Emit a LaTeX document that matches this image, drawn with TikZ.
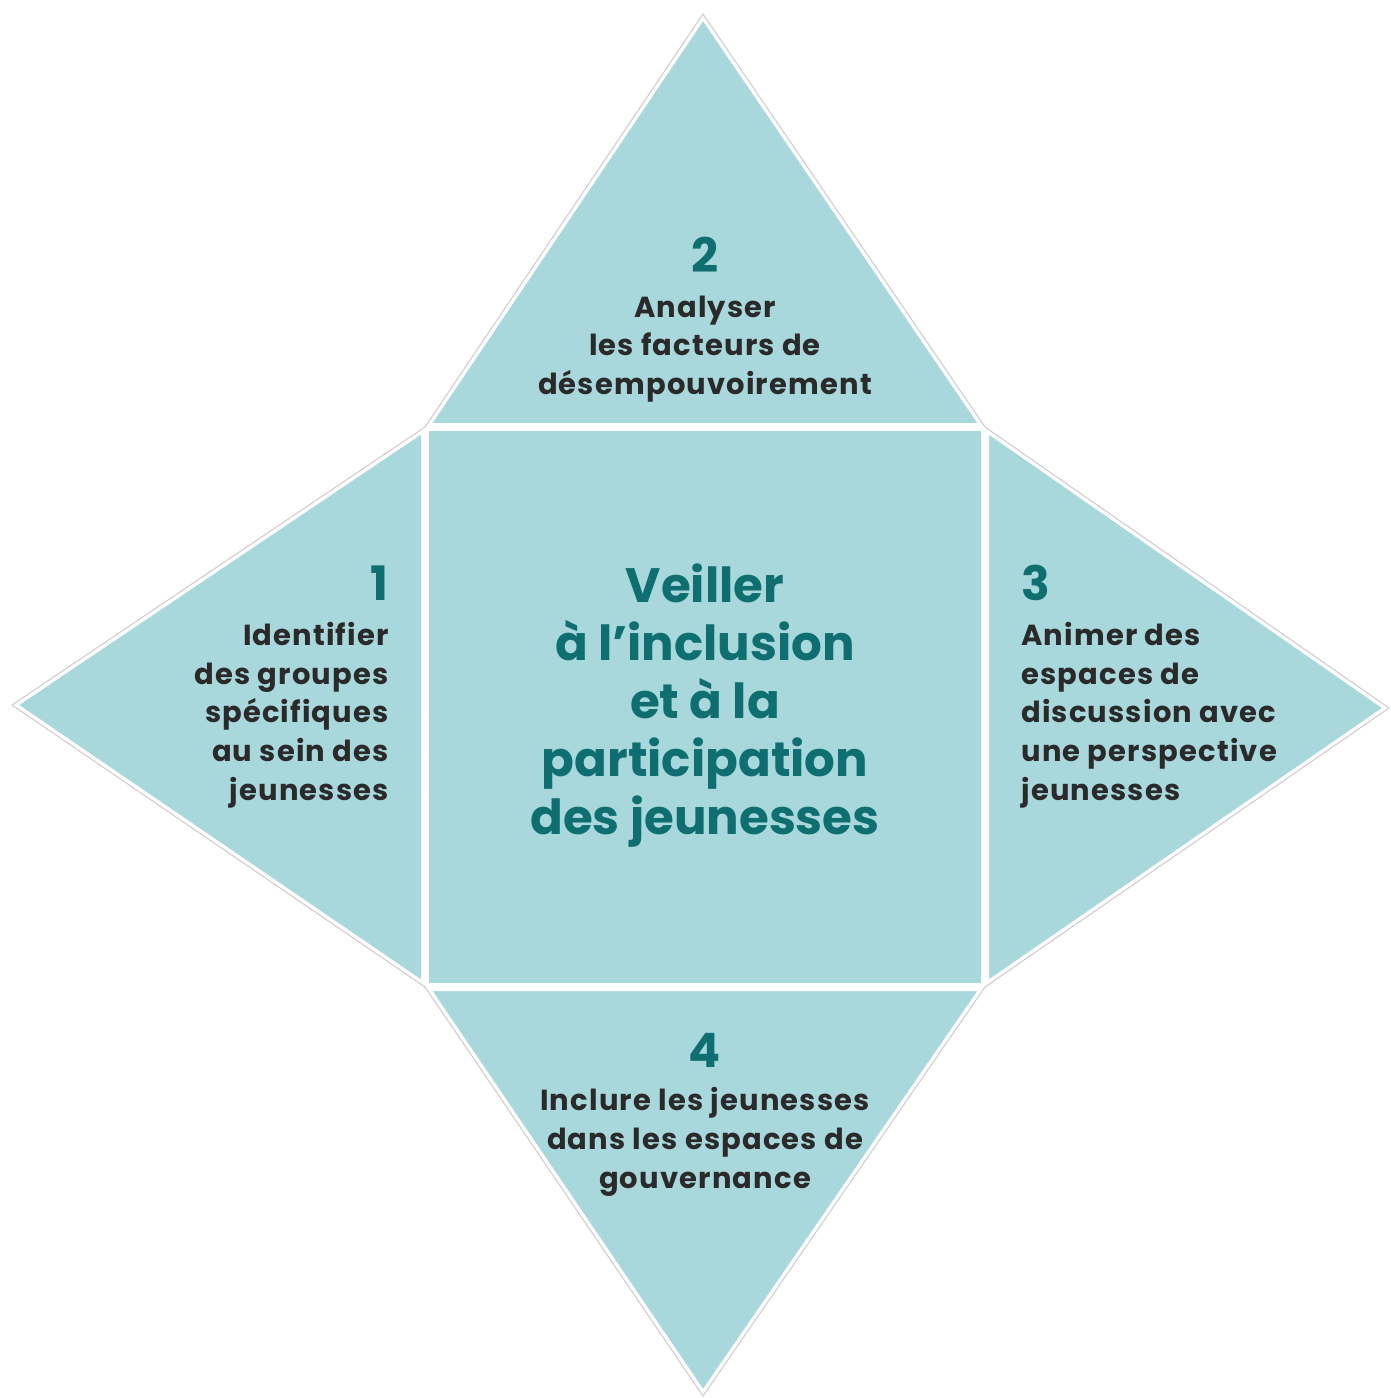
\documentclass[tikz,border=0pt]{standalone}
\usepackage{fontspec}
\setmainfont{Poppins}
\newfontfamily\spacedfont{Poppins}[LetterSpace=4]
\usepackage{xcolor}
\usepackage{tikz}
\usetikzlibrary{positioning, calc}

\definecolor{panelblue}{HTML}{A9D8DC}
\definecolor{titleteal}{HTML}{0F6F70}
\definecolor{bodygray}{HTML}{2A2A2A}

\begin{document}
\begin{tikzpicture}[x=0.02cm, y=-0.02cm,
    panel/.style={fill=panelblue, draw=white, line width=0.16cm, line join=miter},
    rim/.style={draw=gray!45, line width=0.5pt},
    num/.style={font=\bfseries\fontsize{27}{30}\selectfont, text=titleteal, inner sep=0pt},
    body/.style={font=\spacedfont\bfseries\fontsize{16.5}{22}\selectfont, text=bodygray, inner sep=0pt},
    title/.style={font=\bfseries\fontsize{27.5}{33}\selectfont, text=titleteal, align=center, inner sep=0pt}]
\useasboundingbox (0,0) rectangle (1391,1398);

% corners of the middle square and the four tips
\coordinate (nw) at (425,427);
\coordinate (ne) at (985,427);
\coordinate (sw) at (425,987);
\coordinate (se) at (985,987);
\coordinate (tipN) at (703,14);
\coordinate (tipW) at (12,705);
\coordinate (tipE) at (1389,708);
\coordinate (tipS) at (703,1396);

% four triangles
\draw[panel] (nw) -- (tipN) -- (ne) -- cycle;
\draw[panel] (nw) -- (tipW) -- (sw) -- cycle;
\draw[panel] (ne) -- (tipE) -- (se) -- cycle;
\draw[panel] (sw) -- (tipS) -- (se) -- cycle;
% middle square
\draw[panel] (nw) rectangle (se);

% outer rim
\draw[rim] (nw) -- (tipN) -- (ne) -- (tipE) -- (se) -- (tipS) -- (sw) -- (tipW) -- cycle;

% centre text
\node[title] (centre) at (705,706) {Veiller\\à l’inclusion\\et à la\\participation\\des jeunesses};

% 1 - left
\node[num, anchor=east] (n1) at (389,583) {1};
\node[body, align=right, anchor=east] (t1) at (389,715) {Identifier\\des groupes\\spécifiques\\au sein des\\jeunesses};

% 2 - top
\node[num] (n2) at (705,255) {2};
\node[body, align=center] (t2) at (705,349) {Analyser\\les facteurs de\\désempouvoirement};

% 3 - right
\node[num, anchor=west] (n3) at (1021,583) {3};
\node[body, align=left, anchor=west] (t3) at (1021,715) {Animer des\\espaces de\\discussion avec\\une perspective\\jeunesses};

% 4 - bottom
\node[num] (n4) at (705,1050) {4};
\node[body, align=center] (t4) at (705,1142) {Inclure les jeunesses\\dans les espaces de\\gouvernance};
\end{tikzpicture}
\end{document}
